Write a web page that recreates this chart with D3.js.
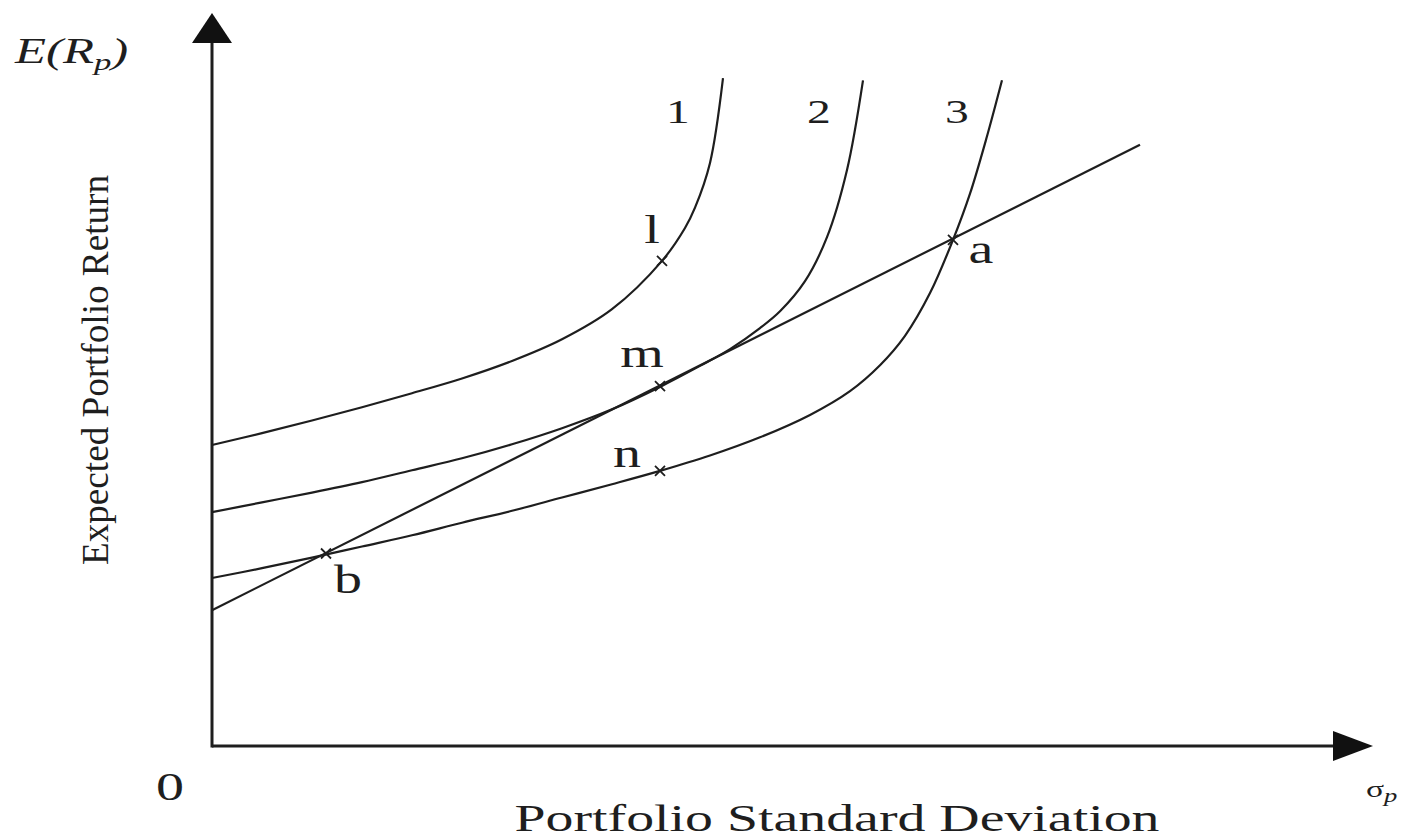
<!DOCTYPE html>
<html><head><meta charset="utf-8">
<script src="https://cdn.jsdelivr.net/npm/d3@7"></script>
<style>html,body{margin:0;padding:0;background:#fff;}svg{display:block;}</style>
</head><body>
<svg id="chart" width="1414" height="838"></svg>
<script>
// ---- data (x = portfolio std. dev., y = expected return; arbitrary units) ----
const curve1X = [0, 5, 10, 15, 20, 25, 30, 35, 40, 45, 47.3, 48.3, 49.8, 51.1];
const curve1Y = [43.0, 44.7, 46.5, 48.4, 50.4, 52.5, 55.0, 58.1, 62.4, 69.3, 74.0, 76.9, 83.3, 95.4];
const curve2X = [0, 5, 10, 15, 20, 25, 30, 35, 40, 44.8, 48.8, 51.8, 54.8, 56.8, 59.3, 61.5, 63.5, 65.1];
const curve2Y = [33.4, 34.8, 36.2, 37.7, 39.4, 41.1, 43.1, 45.4, 48.1, 51.3, 54.3, 56.7, 59.7, 62.1, 66.4, 72.7, 82.3, 95.1];
const curve3X = [0, 5, 10, 15, 20, 25, 30, 35, 40, 44.8, 49.8, 54.8, 59.8, 63.8, 66.8, 69.3, 71.8, 74.1, 75.8, 77.5, 79.0];
const curve3Y = [24.0, 25.4, 26.9, 28.5, 30.1, 31.9, 33.6, 35.5, 37.4, 39.3, 41.5, 44.1, 47.3, 50.7, 54.4, 58.6, 64.7, 72.3, 78.9, 87.1, 95.1];
const curveNames = ["1", "2", "3"];
const lineX = [0, 92.8];
const lineY = [19.4, 85.9];
const pointNames = ["l", "m", "n", "a", "b"];
const pointX = [45.0, 44.8, 44.8, 74.1, 11.4];
const pointY = [69.3, 51.4, 39.3, 72.3, 27.5];
const yTitle = "Expected Portfolio Return";
const xTitle = "Portfolio Standard Deviation";

// ---- layout ----
const svg = d3.select("#chart");
const x = d3.scaleLinear().domain([0, 100]).range([212, 1212]);
const y = d3.scaleLinear().domain([0, 100]).range([746, 46]);
const ink = "#1e1e1e";
const font = "'Liberation Serif', 'Times New Roman', serif";
const stretch = 1.4;

// axes
const xEnd = 116.1, yEnd = 104.7;
svg.append("line").attr("x1", x(0)).attr("y1", y(0)).attr("x2", x(xEnd) - 30).attr("y2", y(0))
  .attr("stroke", ink).attr("stroke-width", 3);
svg.append("line").attr("x1", x(0)).attr("y1", y(0) + 1.5).attr("x2", x(0)).attr("y2", y(yEnd) + 22)
  .attr("stroke", ink).attr("stroke-width", 3);
svg.append("path")
  .attr("d", `M${x(xEnd)},${y(0)} L${x(xEnd) - 40},${y(0) - 15} L${x(xEnd) - 40},${y(0) + 15} Z`)
  .attr("fill", "#111");
svg.append("path")
  .attr("d", `M${x(0)},${y(yEnd)} L${x(0) - 20},${y(yEnd) + 30} L${x(0) + 20},${y(yEnd) + 30} Z`)
  .attr("fill", "#111");

// curves
const lineGen = d3.line().x(d => x(d[0])).y(d => y(d[1])).curve(d3.curveCatmullRom.alpha(0.5));
const curves = [
  d3.zip(curve1X, curve1Y),
  d3.zip(curve2X, curve2Y),
  d3.zip(curve3X, curve3Y)
];
svg.selectAll("path.curve").data(curves).enter().append("path")
  .attr("class", "curve")
  .attr("d", lineGen)
  .attr("fill", "none").attr("stroke", ink).attr("stroke-width", 2.2);

// straight line
svg.append("path")
  .attr("d", d3.line().x(d => x(d[0])).y(d => y(d[1]))(d3.zip(lineX, lineY)))
  .attr("fill", "none").attr("stroke", ink).attr("stroke-width", 2.2);

// x markers
const pts = pointNames.map((n, i) => ({ name: n, x: pointX[i], y: pointY[i] }));
const mk = svg.selectAll("g.mk").data(pts).enter().append("g")
  .attr("transform", d => `translate(${x(d.x)},${y(d.y)})`);
mk.append("path").attr("d", "M-5,-5L5,5M-5,5L5,-5")
  .attr("stroke", ink).attr("stroke-width", 1.8).attr("fill", "none");

function label(px, py, str, size, anchor, italic) {
  return svg.append("text")
    .attr("transform", `translate(${px},${py}) scale(${stretch},1)`)
    .attr("text-anchor", anchor || "middle")
    .attr("font-family", font)
    .attr("font-size", size)
    .attr("font-style", italic ? "italic" : "normal")
    .attr("fill", ink)
    .text(str);
}

const pointOffsets = { l: [-10, -18], m: [-18, -19], n: [-33, -4], a: [28, 23], b: [22, 39] };
pts.forEach(p => {
  const o = pointOffsets[p.name];
  label(x(p.x) + o[0], y(p.y) + o[1], p.name, 40);
});

const curveLabelDx = [-45, -44, -45];
curves.forEach((c, i) => {
  const top = c[c.length - 1];
  label(x(top[0]) + curveLabelDx[i], 123, curveNames[i], 34);
});

label(170, 800, "0", 40);

const ey = svg.append("text")
  .attr("transform", `translate(15,63) scale(${stretch + 0.05},1)`)
  .attr("font-family", font).attr("font-size", 35).attr("font-style", "italic").attr("fill", ink);
ey.append("tspan").text("E(R");
ey.append("tspan").attr("font-size", 24).attr("dy", 7).text("p");
ey.append("tspan").attr("dy", -7).text(")");

const sp = svg.append("text")
  .attr("transform", `translate(1366,797) scale(${stretch},1)`)
  .attr("font-family", font).attr("font-size", 24).attr("fill", ink);
sp.append("tspan").text("σ");
sp.append("tspan").attr("font-size", 19).attr("font-style", "italic").attr("dy", 5).text("p");

svg.append("text")
  .attr("transform", `translate(108,370) rotate(-90)`)
  .attr("text-anchor", "middle")
  .attr("font-family", font).attr("font-size", 38).attr("fill", ink)
  .attr("textLength", 390).attr("lengthAdjust", "spacingAndGlyphs")
  .text(yTitle);
svg.append("text")
  .attr("x", 837).attr("y", 831)
  .attr("text-anchor", "middle")
  .attr("font-family", font).attr("font-size", 38).attr("fill", ink)
  .attr("textLength", 645).attr("lengthAdjust", "spacingAndGlyphs")
  .text(xTitle);
</script>
</body></html>
